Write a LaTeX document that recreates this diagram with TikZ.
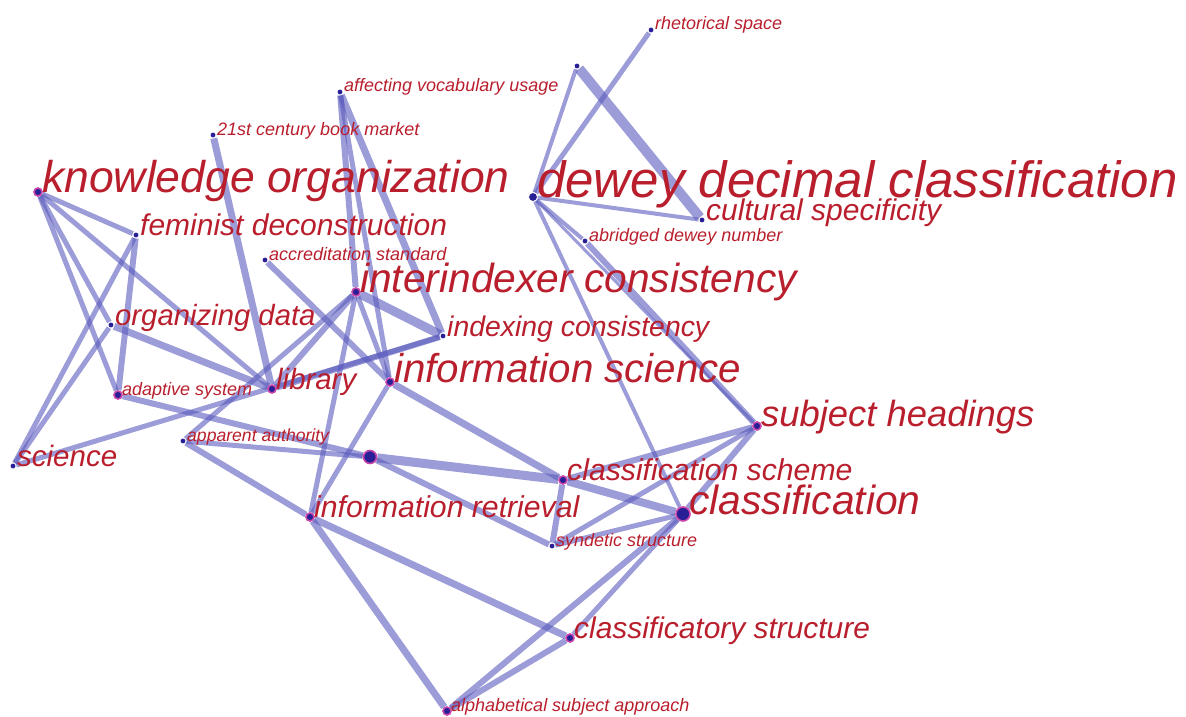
\documentclass[tikz,border=0pt]{standalone}
\usepackage{fontspec}
\setmainfont{Liberation Sans}
\usetikzlibrary{positioning,backgrounds}
\definecolor{lnkblue}{RGB}{90,90,190}
\definecolor{lblred}{RGB}{185,30,45}
\definecolor{dotblue}{RGB}{40,30,150}
\definecolor{dotpink}{RGB}{200,70,170}

\begin{document}
\begin{tikzpicture}[
    x=1pt, y=-1pt,
    dot/.style={circle, fill=dotblue, draw=white, line width=0.8pt, inner sep=0pt, minimum size=6pt},
    pdot/.style={dot, draw=dotpink, line width=1.6pt, minimum size=8pt},
    lbl/.style={font=\fontsize{#1}{#1}\selectfont\itshape, text=lblred, anchor=base west,
                inner sep=0pt, xshift=4pt},
    link/.style={draw=lnkblue, draw opacity=0.6, line width=#1}
]
\useasboundingbox (0,0) rectangle (1186,717);

%% ── Term nodes ──────────────────────────────────────────────────
\node[pdot] (ko)     at (38,192)  {};
\node[dot, minimum size=9pt] (dewey) at (533,197) {};
\node[dot]  (rhet)   at (651,30)  {};
\node[dot]  (hub)    at (577,66)  {};
\node[dot]  (avu)    at (340,92)  {};
\node[dot]  (book)   at (213,135) {};
\node[dot]  (fem)    at (136,235) {};
\node[dot]  (accr)   at (265,260) {};
\node[dot]  (cult)   at (702,220) {};
\node[dot]  (abr)    at (585,241) {};
\node[pdot] (inter)  at (356,292) {};
\node[dot]  (idx)    at (443,336) {};
\node[dot]  (org)    at (111,325) {};
\node[pdot] (infsci) at (390,382) {};
\node[pdot] (adapt)  at (118,395) {};
\node[pdot] (lib)    at (272,389) {};
\node[dot]  (appa)   at (183,441) {};
\node[dot]  (sci)    at (13,466)  {};
\node[pdot, minimum size=13pt] (pnode) at (370,457) {};
\node[pdot] (subj)   at (757,426) {};
\node[pdot] (csch)   at (563,480) {};
\node[pdot] (inret)  at (310,517) {};
\node[pdot, minimum size=14pt] (clf) at (683,514) {};
\node[dot]  (synd)   at (552,546) {};
\node[pdot] (cstr)   at (570,638) {};
\node[pdot] (alpha)  at (447,711) {};

%% ── Labels ──────────────────────────────────────────────────────
\node[lbl=44.5] (ko-l)     at (ko)     {knowledge organization};
\node[lbl=51]   (dewey-l)  at (dewey)  {dewey decimal classification};
\node[lbl=18]   (rhet-l)   at (rhet)   {rhetorical space};
\node[lbl=18]   (avu-l)    at (avu)    {affecting vocabulary usage};
\node[lbl=18]   (book-l)   at (book)   {21st century book market};
\node[lbl=30]   (fem-l)    at (fem)    {feminist deconstruction};
\node[lbl=18]   (accr-l)   at (accr)   {accreditation standard};
\node[lbl=30]   (cult-l)   at (cult)   {cultural specificity};
\node[lbl=18]   (abr-l)    at (abr)    {abridged dewey number};
\node[lbl=40.7] (inter-l)  at (inter)  {interindexer consistency};
\node[lbl=28.4] (idx-l)    at (idx)    {indexing consistency};
\node[lbl=29.3] (org-l)    at (org)    {organizing data};
\node[lbl=40.3] (infsci-l) at (infsci) {information science};
\node[lbl=18]   (adapt-l)  at (adapt)  {adaptive system};
\node[lbl=29.4] (lib-l)    at (lib)    {library};
\node[lbl=17.6] (appa-l)   at (appa)   {apparent authority};
\node[lbl=29.5] (sci-l)    at (sci)    {science};
\node[lbl=36.4] (subj-l)   at (subj)   {subject headings};
\node[lbl=30.2] (csch-l)   at (csch)   {classification scheme};
\node[lbl=30.2] (inret-l)  at (inret)  {information retrieval};
\node[lbl=40.8, xshift=2pt] (clf-l) at (clf) {classification};
\node[lbl=18]   (synd-l)   at (synd)   {syndetic structure};
\node[lbl=29.9] (cstr-l)   at (cstr)   {classificatory structure};
\node[lbl=18]   (alpha-l)  at (alpha)  {alphabetical subject approach};

%% ── Links (behind the terms) ────────────────────────────────────
\begin{scope}[on background layer]
% left cluster
\draw[link=5] (ko) -- (fem);
\draw[link=5] (ko) -- (lib);
\draw[link=5] (ko) -- (adapt);
\draw[link=5] (ko) -- (org);
\draw[link=5] (sci) -- (fem);
\draw[link=5] (sci) -- (org);
\draw[link=5] (sci) -- (idx);
\draw[link=6] (fem) -- (adapt);
\draw[link=7] (org) -- (lib);
\draw[link=7] (book) -- (lib);
\draw[link=6] (adapt) -- (pnode);

% middle cluster
\draw[link=6] (avu) -- (inter);
\draw[link=7] (avu) -- (idx);
\draw[link=5] (avu) -- (infsci);
\draw[link=6] (accr) -- (infsci);
\draw[link=9] (inter) -- (idx);
\draw[link=6] (inter) -- (lib);
\draw[link=5] (inter) -- (infsci);
\draw[link=5] (inter) -- (inret);
\draw[link=5] (inter) -- (appa);
\draw[link=6] (idx) -- (lib);
\draw[link=5] (appa) -- (pnode);
\draw[link=6] (appa) -- (inret);
\draw[link=9] (pnode) -- (csch);
\draw[link=6] (pnode) -- (synd);
\draw[link=7] (infsci) -- (csch);
\draw[link=5] (infsci) -- (inret);

% dewey cluster
\draw[link=5] (dewey) -- (rhet);
\draw[link=4] (dewey) -- (hub);
\draw[link=10] (hub) -- (cult);
\draw[link=4] (dewey) -- (cult);
\draw[link=4] (dewey) -- (abr);
\draw[link=3] (dewey) -- (subj);
\draw[link=6] (abr) -- (subj);
\draw[link=4] (dewey) -- (clf);

% classification cluster
\draw[link=6] (subj) -- (csch);
\draw[link=6] (subj) -- (clf);
\draw[link=5] (subj) -- (synd);
\draw[link=8] (csch) -- (clf);
\draw[link=6] (csch) -- (synd);
\draw[link=5] (synd) -- (clf);
\draw[link=6] (clf) -- (alpha);
\draw[link=5] (clf) -- (cstr);
\draw[link=6] (cstr) -- (alpha);
\draw[link=7] (inret) -- (cstr);
\draw[link=7] (inret) -- (alpha);
\end{scope}

\end{tikzpicture}
\end{document}
